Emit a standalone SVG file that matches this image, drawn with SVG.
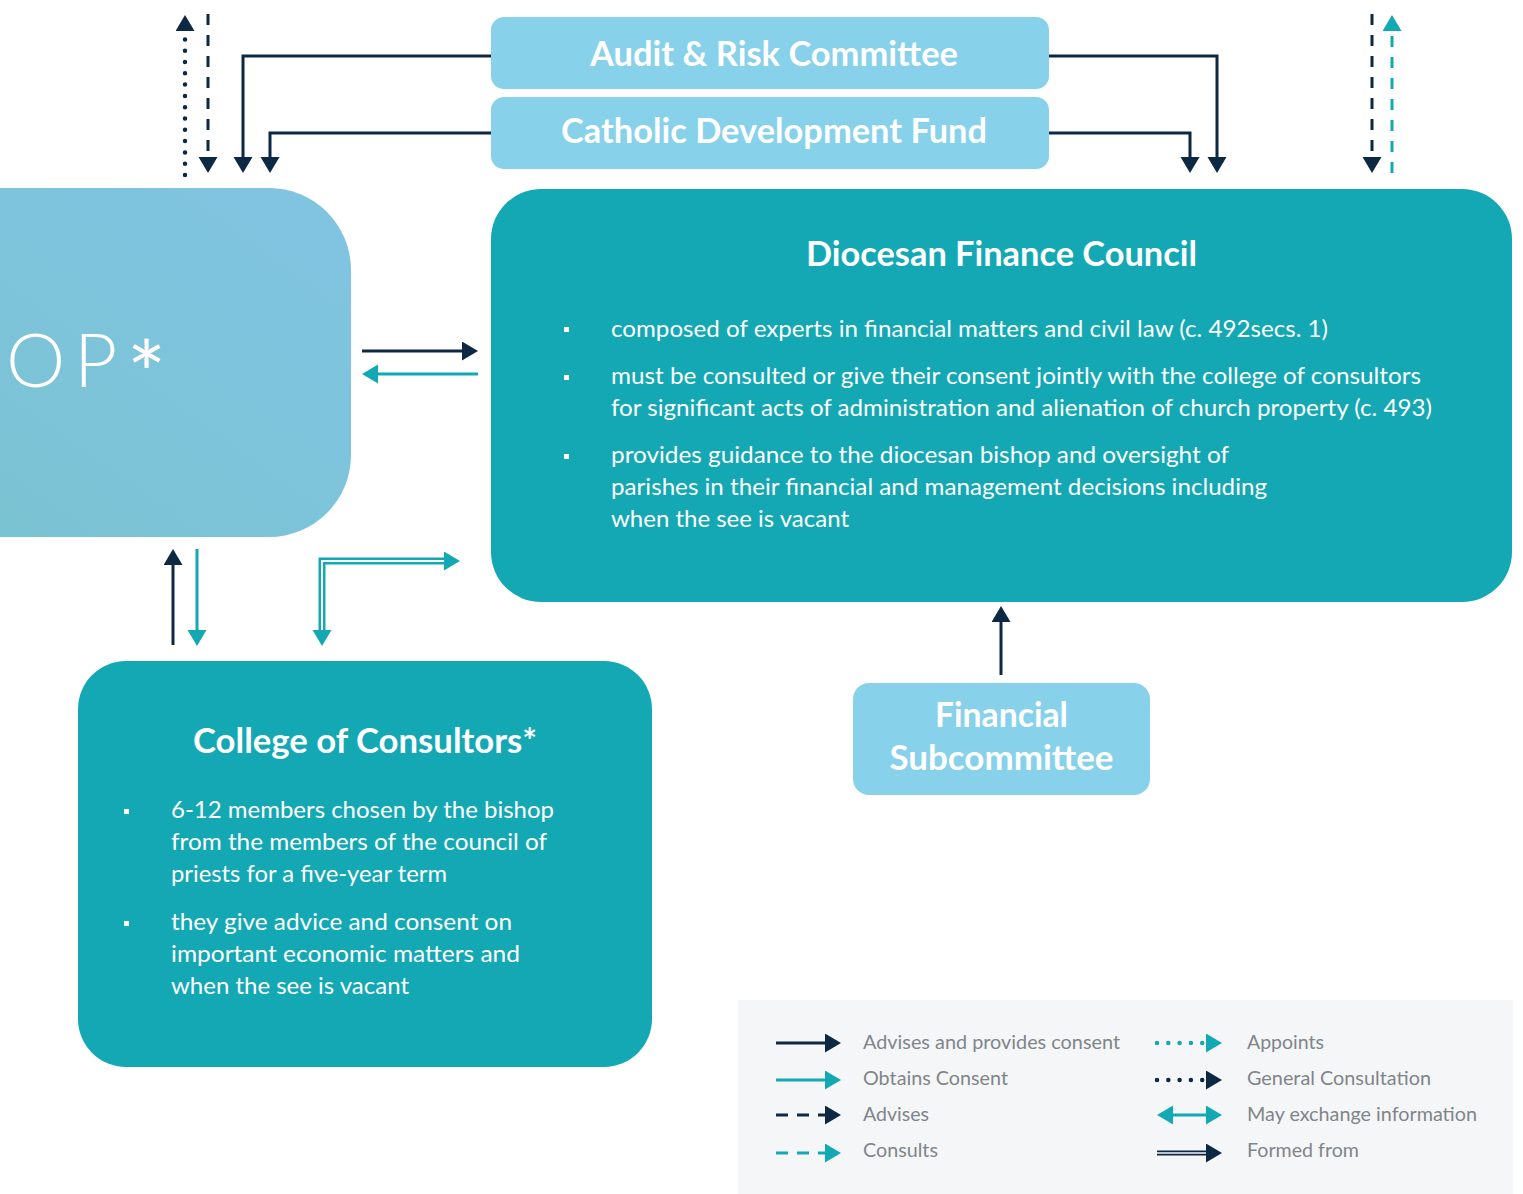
<svg xmlns="http://www.w3.org/2000/svg" width="1523" height="1194" viewBox="0 0 1523 1194">
<style>
.lb{fill:#88D1EB}
.tl{fill:#13A8B3}
.hd{font-family:Lato,"Liberation Sans",sans-serif;font-weight:700;fill:#fff}
.bd{font-family:Lato,"Liberation Sans",sans-serif;font-weight:400;fill:#fff;font-size:23px}
.lg{font-family:Lato,"Liberation Sans",sans-serif;font-weight:400;fill:#80858A;font-size:19px}
.n{fill:none;stroke:#0C2843;stroke-width:3}
.t{fill:none;stroke:#13A9B4;stroke-width:3}
.dash{stroke-dasharray:11 10}
.dot{stroke-width:4.5;stroke-linecap:round;stroke-dasharray:0 11.3}
</style>
<defs>
<linearGradient id="bg" x1="0" y1="1" x2="1" y2="0">
<stop offset="0" stop-color="#79C3D0"/>
<stop offset="1" stop-color="#81C4E3"/>
</linearGradient>
<marker id="an" markerUnits="userSpaceOnUse" markerWidth="17" markerHeight="20" refX="0" refY="9.5" orient="auto-start-reverse"><path d="M0,0 L16,9.5 L0,19 z" fill="#0C2843"/></marker>
<marker id="at" markerUnits="userSpaceOnUse" markerWidth="17" markerHeight="20" refX="0" refY="9.5" orient="auto-start-reverse"><path d="M0,0 L16,9.5 L0,19 z" fill="#13A9B4"/></marker>
</defs>

<g id="bishop">
<rect x="-140" y="188" width="491" height="349" rx="82" fill="url(#bg)"/>
<text y="387" font-family="Lato,'Liberation Sans',sans-serif" font-weight="300" font-size="75" fill="#fff"><tspan x="6">O</tspan><tspan x="74">P</tspan><tspan x="127" dy="20" font-size="92" font-weight="400">*</tspan></text>
</g>

<g id="audit">
<rect class="lb" x="491" y="17" width="558" height="72" rx="13"/>
<text class="hd" x="774" y="66" font-size="34" text-anchor="middle" textLength="368" lengthAdjust="spacingAndGlyphs">Audit &amp; Risk Committee</text>
</g>

<g id="cdf">
<rect class="lb" x="491" y="97" width="558" height="72" rx="13"/>
<text class="hd" x="774" y="143" font-size="34" text-anchor="middle" textLength="426" lengthAdjust="spacingAndGlyphs">Catholic Development Fund</text>
</g>

<g id="dfc">
<rect class="tl" x="491" y="189" width="1021" height="413" rx="50"/>
<text class="hd" x="1001.5" y="266" font-size="35" text-anchor="middle" textLength="391" lengthAdjust="spacingAndGlyphs">Diocesan Finance Council</text>
<rect x="564" y="327" width="5" height="5" fill="#fff"/>
<rect x="564" y="375" width="5" height="5" fill="#fff"/>
<rect x="564" y="454" width="5" height="5" fill="#fff"/>
<text class="bd" x="611" y="337" textLength="717" lengthAdjust="spacingAndGlyphs">composed of experts in financial matters and civil law (c. 492secs. 1)</text>
<text class="bd" x="611" y="384" textLength="810" lengthAdjust="spacingAndGlyphs">must be consulted or give their consent jointly with the college of consultors</text>
<text class="bd" x="611" y="416" textLength="821" lengthAdjust="spacingAndGlyphs">for significant acts of administration and alienation of church property (c. 493)</text>
<text class="bd" x="611" y="463" textLength="618" lengthAdjust="spacingAndGlyphs">provides guidance to the diocesan bishop and oversight of</text>
<text class="bd" x="611" y="495" textLength="656" lengthAdjust="spacingAndGlyphs">parishes in their financial and management decisions including</text>
<text class="bd" x="611" y="527" textLength="238" lengthAdjust="spacingAndGlyphs">when the see is vacant</text>
</g>

<g id="college">
<rect class="tl" x="78" y="661" width="574" height="406" rx="48"/>
<text class="hd" x="365" y="753" font-size="34" text-anchor="middle" textLength="344" lengthAdjust="spacingAndGlyphs">College of Consultors*</text>
<rect x="124" y="809" width="5" height="5" fill="#fff"/>
<rect x="124" y="921" width="5" height="5" fill="#fff"/>
<text class="bd" x="171" y="818" textLength="383" lengthAdjust="spacingAndGlyphs">6-12 members chosen by the bishop</text>
<text class="bd" x="171" y="850" textLength="376" lengthAdjust="spacingAndGlyphs">from the members of the council of</text>
<text class="bd" x="171" y="882" textLength="276" lengthAdjust="spacingAndGlyphs">priests for a five-year term</text>
<text class="bd" x="171" y="930" textLength="341" lengthAdjust="spacingAndGlyphs">they give advice and consent on</text>
<text class="bd" x="171" y="962" textLength="349" lengthAdjust="spacingAndGlyphs">important economic matters and</text>
<text class="bd" x="171" y="994" textLength="238" lengthAdjust="spacingAndGlyphs">when the see is vacant</text>
</g>

<g id="finsub">
<rect class="lb" x="853" y="683" width="297" height="112" rx="16"/>
<text class="hd" x="1001.5" y="727" font-size="34" text-anchor="middle" textLength="133" lengthAdjust="spacingAndGlyphs">Financial</text>
<text class="hd" x="1001.5" y="770" font-size="34" text-anchor="middle" textLength="224" lengthAdjust="spacingAndGlyphs">Subcommittee</text>
</g>

<g id="connectors">
<path class="n dot" d="M185,175 V31" marker-end="url(#an)"/>
<path class="n dash" d="M208,14 V157" marker-end="url(#an)"/>
<path class="n" d="M491,56 H243 V157" marker-end="url(#an)"/>
<path class="n" d="M491,133 H270 V157" marker-end="url(#an)"/>
<path class="n" d="M1049,56 H1217 V157" marker-end="url(#an)"/>
<path class="n" d="M1049,133 H1190 V157" marker-end="url(#an)"/>
<path class="n dash" d="M1372,14 V157" marker-end="url(#an)"/>
<path class="t dash" d="M1392,173 V31" marker-end="url(#at)"/>
<path class="n" d="M362,351 H462" marker-end="url(#an)"/>
<path class="t" d="M478,374 H378" marker-end="url(#at)"/>
<path class="n" d="M173,645 V565" marker-end="url(#an)"/>
<path class="t" d="M197,549 V630" marker-end="url(#at)"/>
<path d="M322,630 V561 H444" fill="none" stroke="#13A9B4" stroke-width="7" marker-start="url(#at)" marker-end="url(#at)"/>
<path d="M322,630 V561 H444" fill="none" stroke="#fff" stroke-width="2"/>
<path class="n" d="M1001,675 V622" marker-end="url(#an)"/>
</g>

<g id="legend">
<rect x="738" y="1000" width="775" height="194" fill="#F5F6F8"/>
<path class="n" d="M776,1043 H825" marker-end="url(#an)"/>
<path class="t" d="M776,1080 H825" marker-end="url(#at)"/>
<path class="n" d="M776,1115 H825" stroke-dasharray="12 9" marker-end="url(#an)"/>
<path class="t" d="M776,1153 H825" stroke-dasharray="12 9" marker-end="url(#at)"/>
<path class="t dot" d="M1157,1043 H1206" stroke-dasharray="0 11" marker-end="url(#at)"/>
<path class="n dot" d="M1157,1080 H1206" stroke-dasharray="0 11" marker-end="url(#an)"/>
<path class="t" d="M1173,1115 H1206" marker-start="url(#at)" marker-end="url(#at)"/>
<path d="M1157,1153 H1206" fill="none" stroke="#0C2843" stroke-width="5" marker-end="url(#an)"/>
<path d="M1157,1153 H1206" fill="none" stroke="#F5F6F8" stroke-width="1.3"/>
<text class="lg" x="863" y="1049" textLength="257" lengthAdjust="spacingAndGlyphs">Advises and provides consent</text>
<text class="lg" x="863" y="1085" textLength="145" lengthAdjust="spacingAndGlyphs">Obtains Consent</text>
<text class="lg" x="863" y="1121" textLength="66" lengthAdjust="spacingAndGlyphs">Advises</text>
<text class="lg" x="863" y="1157" textLength="75" lengthAdjust="spacingAndGlyphs">Consults</text>
<text class="lg" x="1247" y="1049" textLength="77" lengthAdjust="spacingAndGlyphs">Appoints</text>
<text class="lg" x="1247" y="1085" textLength="184" lengthAdjust="spacingAndGlyphs">General Consultation</text>
<text class="lg" x="1247" y="1121" textLength="230" lengthAdjust="spacingAndGlyphs">May exchange information</text>
<text class="lg" x="1247" y="1157" textLength="112" lengthAdjust="spacingAndGlyphs">Formed from</text>
</g>
</svg>
